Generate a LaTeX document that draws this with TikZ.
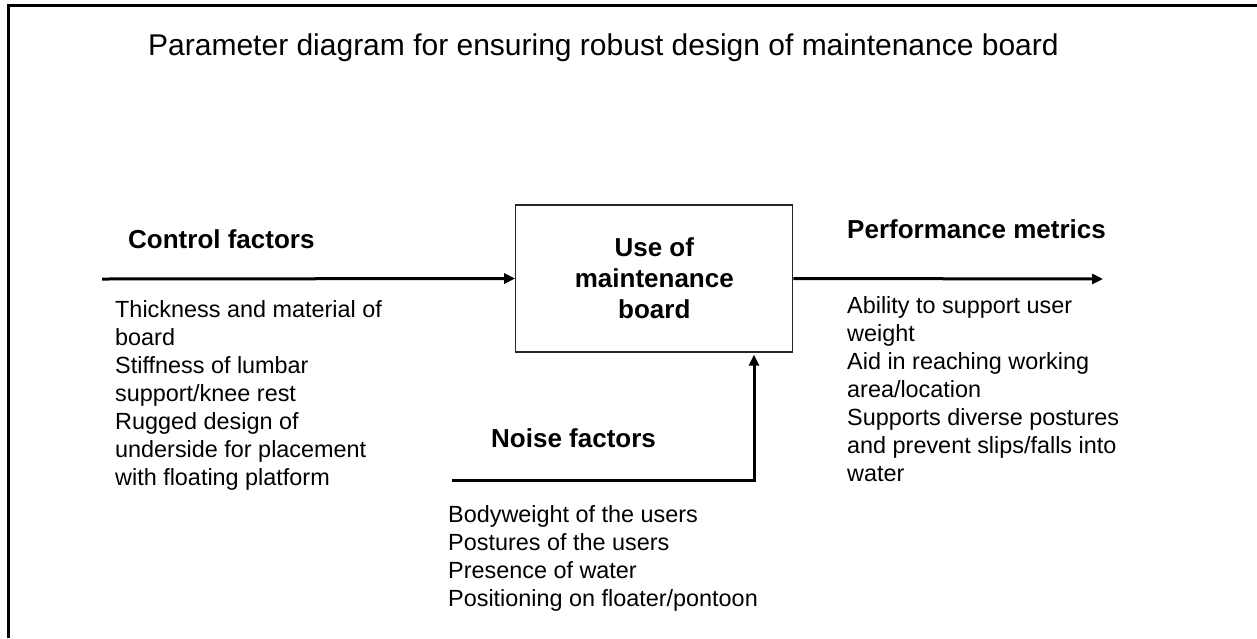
\documentclass[tikz,border=0pt]{standalone}
\usepackage{fontspec}
\setmainfont{Liberation Sans}
\usetikzlibrary{arrows.meta}
\begin{document}
\begin{tikzpicture}[x=1pt,y=-1pt,
  body/.style={anchor=north west,inner sep=0pt,align=left,font=\fontsize{23.4}{28}\selectfont},
  head/.style={anchor=base west,inner sep=0pt,font=\fontsize{26}{31}\selectfont\bfseries},
  flow/.style={line width=3pt,-{Triangle[length=11pt,width=10pt]}},
  procbox/.style={draw=black!85,line width=1.3pt,minimum width=277pt,minimum height=147pt,inner sep=0pt,align=center,font=\fontsize{26}{31}\selectfont\bfseries},
]
\useasboundingbox (0,0) rectangle (1257,638);
\draw[line width=3pt] (8.5,638) -- (8.5,5) -- (1257,5);

\node[anchor=base west,inner sep=0pt,font=\fontsize{30}{36}\selectfont] (title) at (148,55)
  {Parameter diagram for ensuring robust design of maintenance board};

\node[procbox] (box) at (654.3,278.5) {Use of\\maintenance\\board};

\node[head] (cf) at (128,248) {Control factors};
\node[head] (pm) at (847,238) {Performance metrics};
\node[head] (nf) at (491,447) {Noise factors};

\coordinate (cin) at (102,279);
\coordinate (pout) at (1103,279);
\coordinate (nin) at (452,480);
\coordinate (nc) at (754,480);

\draw[flow] (cin) -- (box.west);
\draw[flow] (box.east) -- (pout);
\draw[flow,shorten >=2pt] (nin) -- (nc) -- (box.south -| nc);

\node[body] (ct) at (115,300) {Thickness and material of\\board\\Stiffness of lumbar\\support/knee rest\\Rugged design of\\underside for placement\\with floating platform};
\node[body] (pt) at (847,296) {Ability to support user\\weight\\Aid in reaching working\\area/location\\Supports diverse postures\\and prevent slips/falls into\\water};
\node[body] (nt) at (448,505) {Bodyweight of the users\\Postures of the users\\Presence of water\\Positioning on floater/pontoon};
\end{tikzpicture}
\end{document}
